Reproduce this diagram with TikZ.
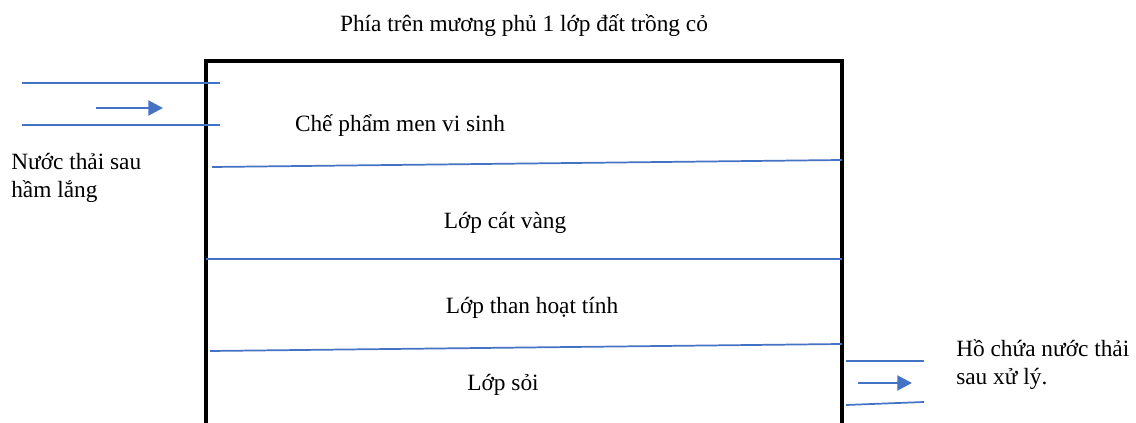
\documentclass[tikz,border=0pt]{standalone}
\usepackage{fontspec}
\setmainfont{Liberation Serif}
\usepackage{xcolor}
\usetikzlibrary{arrows.meta}
\definecolor{azul}{HTML}{4472C4}

\begin{document}
\begin{tikzpicture}[
		    x=0.75pt, y=-0.75pt,
		    every node/.style={inner sep=0pt, font=\fontsize{17.5}{20}\selectfont}
		]
		\tikzset{
		    parede/.style={draw=black, line width=3.5pt, line join=miter},
		    camada/.style={draw=azul, line width=1.3pt},
		    fluxo/.style={draw=azul, line width=2.2pt, -{Triangle[length=11pt, width=11pt]}},
		    rotulo/.style={anchor=base},
		    rotuloesq/.style={anchor=base west, align=left}
		}
		\useasboundingbox (0,0) rectangle (1136,423);
		% tanque aberto em baixo
		\coordinate (so) at (206,423);
		\coordinate (no) at (206,61);
		\coordinate (ne) at (842,61);
		\coordinate (se) at (842,423);
		\draw[parede] (so) -- (no) -- (ne) -- (se);
		% entrada
		\draw[camada] (22,83) -- (220,83);
		\draw[camada] (22,125) -- (220,125);
		\draw[fluxo] (96,108) -- (163,108);
		% camadas
		\draw[camada] (212,167) -- (842,160);
		\draw[camada] (206,259) -- (842,259);
		\draw[camada] (210,351) -- (842,344);
		% saida
		\draw[camada] (846,361) -- (924,361);
		\draw[camada] (846,405) -- (924,402);
		\draw[fluxo] (858,383) -- (912,383);
		% textos
		\node[rotulo] (topo) at (524,32) {Phía trên mương phủ 1 lớp đất trồng cỏ};
		\node[rotulo] (men) at (400,132) {Chế phẩm men vi sinh};
		\node[rotulo] (cat) at (505,229) {Lớp cát vàng};
		\node[rotulo] (than) at (532,314) {Lớp than hoạt tính};
		\node[rotulo] (soi) at (503,391) {Lớp sỏi};
		\node[rotuloesq] (entrada) at (11,170) {Nước thải sau};
		\node[rotuloesq] (entrada2) at (11,198) {hầm lắng};
		\node[rotuloesq] (saida) at (956,357) {Hồ chứa nước thải};
		\node[rotuloesq] (saida2) at (956,385) {sau xử lý.};
		\end{tikzpicture}
\end{document}
